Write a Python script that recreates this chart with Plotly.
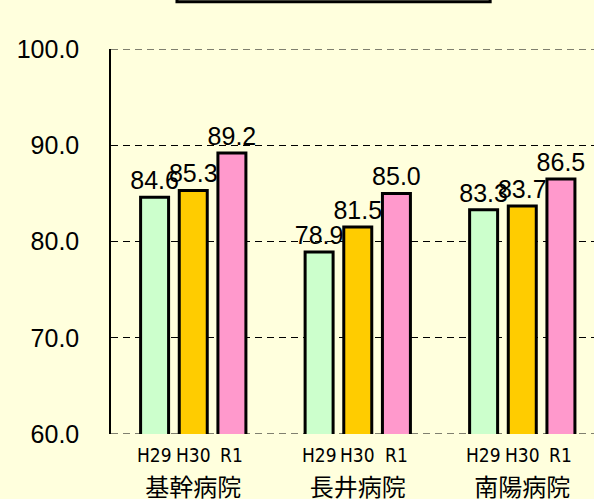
import plotly.graph_objects as go

hospitals = ["基幹病院", "長井病院", "南陽病院"]
years = ["H29", "H30", "R1"]
values_h29 = [84.6, 78.9, 83.3]
values_h30 = [85.3, 81.5, 83.7]
values_r1 = [89.2, 85.0, 86.5]
colors = ["#CCFFCC", "#FFCC00", "#FF99CC"]
y_ticks = [60, 70, 80, 90, 100]

series = [values_h29, values_h30, values_r1]

BG = "#FFFFDD"
BARGAP = 0.295
BARGROUPGAP = 0.276
DASH = "7px,5px"

fig = go.Figure()
for yr, vals, col in zip(years, series, colors):
    fig.add_trace(go.Bar(
        name=yr, x=hospitals, y=vals,
        marker=dict(color=col, line=dict(color="black", width=3)),
        text=[f"{v:.1f}" for v in vals],
        textposition="outside",
        constraintext="none",
        cliponaxis=False,
        textfont=dict(family="Liberation Sans, Arial", size=25, color="black"),
    ))

# year labels under each bar
slot = (1 - BARGAP) / len(years)
annotations = []
for i, h in enumerate(hospitals):
    for j, yr in enumerate(years):
        annotations.append(dict(
            x=i + (j - (len(years) - 1) / 2) * slot, xref="x",
            y=y_ticks[0], yref="y", yshift=-21,
            text=yr, showarrow=False,
            font=dict(family="DejaVu Sans Condensed, DejaVu Sans", size=19,
                      color="black"),
            xanchor="center", yanchor="middle",
        ))

# dashed lines at the range edges (plotly hides edge gridlines)
edge_lines = [dict(type="line", xref="paper", yref="y", x0=0, x1=1, y0=v, y1=v,
                   line=dict(color="black", width=1, dash=DASH), layer="below")
              for v in (y_ticks[0], y_ticks[-1])]

fig.update_layout(
    width=594, height=499,
    margin=dict(l=111, r=0, t=49, b=65),
    paper_bgcolor=BG, plot_bgcolor=BG,
    barmode="group", bargap=BARGAP, bargroupgap=BARGROUPGAP,
    showlegend=False,
    annotations=annotations,
    shapes=edge_lines + [dict(type="rect", xref="paper", yref="paper",
                 x0=0.1366, x1=0.785, y0=1.123, y1=1.25,
                 line=dict(color="black", width=3), fillcolor=BG)],
)
fig.update_xaxes(
    range=[-0.5, 2.436], showgrid=False, showline=False, ticks="",
    tickfont=dict(family="Noto Sans CJK JP", size=24, color="black"),
    ticklabelstandoff=37, automargin=False,
)
fig.update_yaxes(
    range=[y_ticks[0], y_ticks[-1]], tickvals=y_ticks, tickformat=".1f",
    showgrid=True, gridcolor="black", gridwidth=1, griddash=DASH,
    showline=True, linecolor="black", linewidth=1.5,
    zeroline=False, ticks="", automargin=False,
    tickfont=dict(family="Liberation Sans, Arial", size=25, color="black"),
    ticklabelstandoff=25,
)

fig.write_html("out.html")
